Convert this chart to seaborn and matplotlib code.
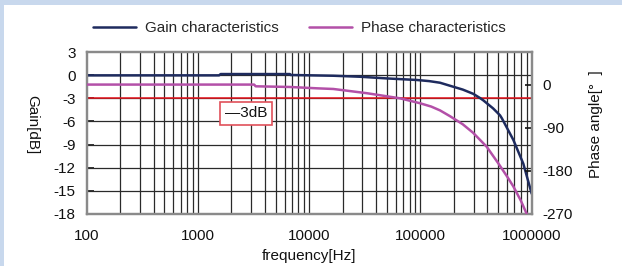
import numpy as np
import pandas as pd
import matplotlib
matplotlib.use("Agg")
import matplotlib.pyplot as plt
import matplotlib.patches as mpatches
from matplotlib.ticker import FixedLocator, NullFormatter, FixedFormatter
import seaborn as sns

# ---- data ----
gain_freq = [100, 1550, 1600, 6700, 6800, 16500, 28600, 50000, 92500, 120000,
             150000, 184000, 240000, 298000, 343000, 367000, 450000, 519000,
             540000, 684000, 841000, 1000000]
gain_db = [0, 0, 0.17, 0.17, 0.05, -0.05, -0.18, -0.4, -0.6, -0.75,
           -0.96, -1.35, -1.85, -2.4, -2.95, -3.25, -4.3, -5.2,
           -5.6, -8.4, -11.5, -15.4]

phase_freq = [100, 3200, 3300, 6700, 11700, 16500, 32900, 65500, 99000, 125000,
              150000, 184000, 240000, 298000, 394000, 502000, 600000, 684000,
              800000, 900000]
phase_deg = [0, 0, -3.6, -5, -7.8, -9.2, -18, -28.7, -39, -46,
             -54, -66, -83, -101, -130, -165, -192, -213,
             -243, -270]

gain_ticks = [3, 0, -3, -6, -9, -12, -15, -18]
phase_ticks = [0, -90, -180, -270]
x_ticks = [100, 1000, 10000, 100000, 1000000]
x_tick_labels = ["100", "1000", "10000", "100000", "1000000"]
ref_level = -3
ref_label = "\u20143dB"

gain_df = pd.DataFrame({"freq": gain_freq, "gain": gain_db})
phase_df = pd.DataFrame({"freq": phase_freq, "phase": phase_deg})

sns.set_theme(style="white")
plt.rcParams["font.family"] = ["Liberation Sans", "DejaVu Sans"]
FS = 11
plt.rcParams["font.size"] = FS

GAIN_C = "#1e2b5e"
PHASE_C = "#b350a8"
RED = "#e8141e"
GRID_C = "#2a2a2a"
SPINE_C = "#8a8a8a"
BG_BLUE = "#c8d8ed"

W, H = 622, 266
fig = plt.figure(figsize=(W / 100, H / 100), dpi=100)
fig.patch.set_facecolor("white")
fig.patches.append(mpatches.Rectangle((0, 1 - 5 / H), 1, 5 / H, transform=fig.transFigure,
                                      facecolor=BG_BLUE, edgecolor="none", zorder=0))
fig.patches.append(mpatches.Rectangle((0, 0), 4 / W, 1, transform=fig.transFigure,
                                      facecolor=BG_BLUE, edgecolor="none", zorder=0))

L, R, T, B = 86.7, 531.7, 52.3, 213.7
ax = fig.add_axes([L / W, 1 - B / H, (R - L) / W, (B - T) / H])
ax.set_facecolor("none")
ax2 = ax.twinx()

ax.set_xscale("log")
ax.set_xlim(100, 1000000)
ax.set_ylim(-18, 3)
ax2.set_ylim(-270, 67.5)

minor = [m * 10 ** e for e in range(2, 6) for m in range(2, 10)]
for xv in minor + x_ticks[1:-1]:
    ax.axvline(xv, color=GRID_C, lw=0.9, zorder=1)
for yv in gain_ticks[1:-1]:
    ax.axhline(yv, color=GRID_C, lw=0.9, zorder=1)
ax.axhline(ref_level, color=RED, lw=1.1, zorder=2)

sns.lineplot(data=gain_df, x="freq", y="gain", ax=ax, color=GAIN_C, lw=1.8,
             zorder=4, legend=False)
sns.lineplot(data=phase_df, x="freq", y="phase", ax=ax2, color=PHASE_C, lw=1.8,
             zorder=4, legend=False)
ax2.set_xscale("log")
ax2.set_xlim(100, 1000000)

ax.xaxis.set_major_locator(FixedLocator(x_ticks))
ax.xaxis.set_major_formatter(FixedFormatter(x_tick_labels))
ax.xaxis.set_minor_locator(FixedLocator([]))
ax.xaxis.set_minor_formatter(NullFormatter())
ax.set_yticks(gain_ticks)
ax.set_yticklabels([str(v) for v in gain_ticks])
ax2.set_yticks(phase_ticks)
ax2.set_yticklabels([str(v) for v in phase_ticks])
ax.tick_params(axis="x", direction="in", length=0, pad=11, labelsize=FS, colors="#111")
ax.tick_params(axis="y", direction="in", length=5, width=1.2, pad=8, labelsize=FS,
               colors="#111", left=True)
ax2.tick_params(axis="y", direction="in", length=5, width=1.2, pad=8, labelsize=FS,
                colors="#111", right=True)

for a in (ax, ax2):
    for s in a.spines.values():
        s.set_color(SPINE_C)
        s.set_linewidth(1.6)

ax.set_xlabel("frequency[Hz]", fontsize=FS, color="#111", labelpad=4)
ax.set_ylabel("Gain[dB]", fontsize=FS, color="#111", rotation=270, va="center", ha="center")
ax.yaxis.set_label_coords(-0.1227, 0.55)
ax2.set_ylabel("Phase angle[°  ]", fontsize=FS, color="#111", rotation=90, va="center", ha="center")
ax2.yaxis.set_label_coords(1.1445, 0.556)

ax.text(2700, -4.96, ref_label, fontsize=11, color="#111", ha="center", va="center", zorder=6,
        bbox=dict(boxstyle="square,pad=0.32", facecolor="white", edgecolor="#e0505a", lw=1.2))

handles = [plt.Line2D([], [], color=GAIN_C, lw=1.8), plt.Line2D([], [], color=PHASE_C, lw=1.8)]
fig.legend(handles, ["Gain characteristics", "Phase characteristics"], ncol=2, frameon=False,
           loc="center", bbox_to_anchor=(299.5 / W, 1 - 28 / H), fontsize=FS,
           handlelength=2.8, handletextpad=0.6, columnspacing=2.0)

fig.savefig("out.png", dpi=100)
